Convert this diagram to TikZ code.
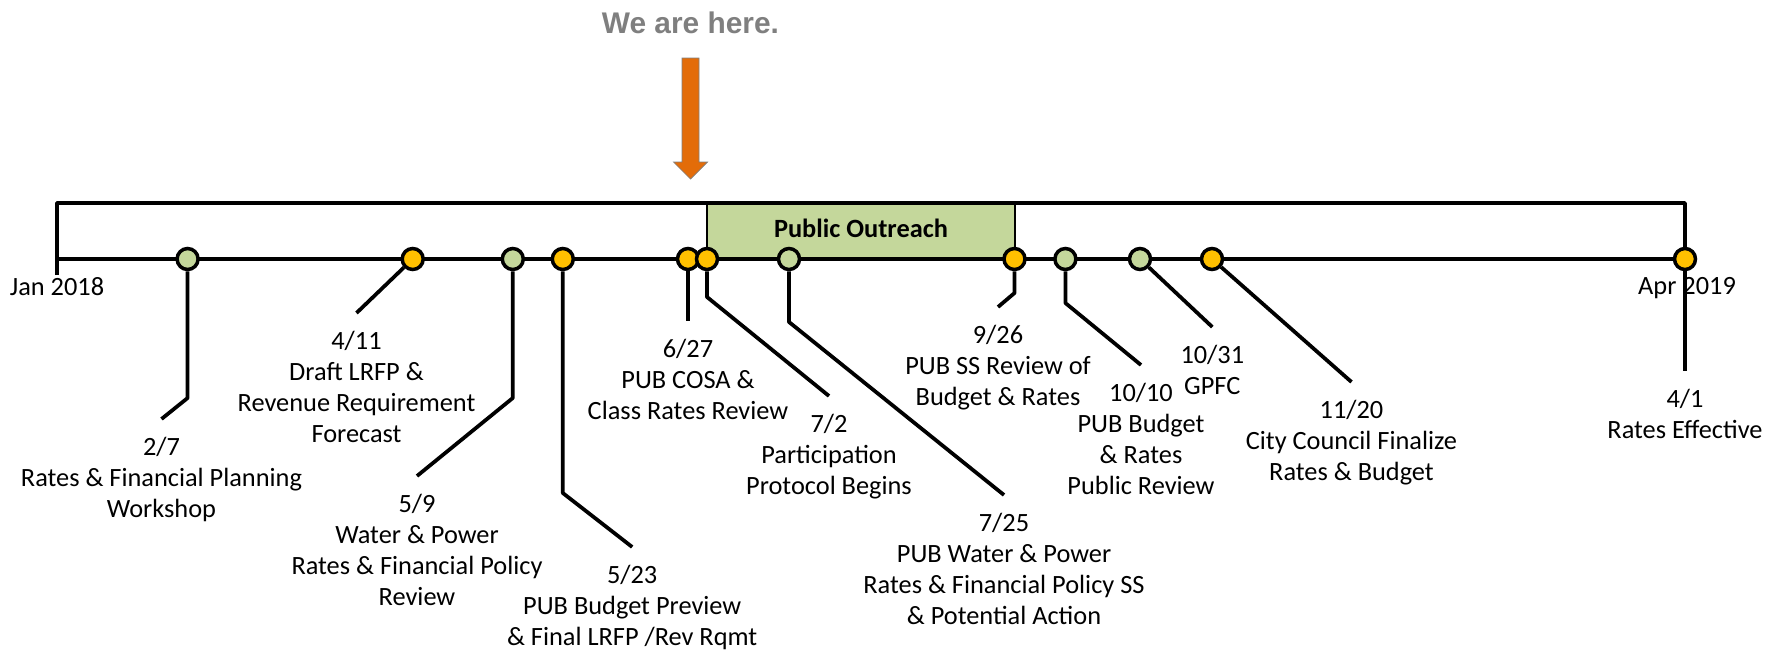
\documentclass[tikz,border=0pt]{standalone}
\usepackage{fontspec}
\setmainfont{Carlito}
\newfontfamily\herefont{Liberation Sans}
\usepackage{tikz}

\definecolor{mgreen}{HTML}{C4D79B}
\definecolor{morange}{HTML}{FFC000}
\definecolor{arrorange}{HTML}{E36C09}
\definecolor{heregray}{HTML}{7F7F7F}

\tikzset{
  bar/.style={line width=0.075cm, line join=round},
  leader/.style={line width=0.075cm, line join=round},
  gdot/.style={circle, draw, line width=0.07cm, fill=mgreen, minimum size=0.42cm, inner sep=0pt},
  odot/.style={gdot, fill=morange},
  lbl/.style={font=\fontsize{15}{17.6}\selectfont, align=center, anchor=north, inner xsep=0pt, inner ysep=0.36cm},
}

\begin{document}
\begin{tikzpicture}[x=0.02cm, y=-0.02cm]
    \useasboundingbox (0,0) rectangle (1783,650);

    % We are here
    \node[font=\herefont\bfseries\fontsize{17}{20}\selectfont, text=heregray] (here) at (690.5,23) {We are here.};
    \fill[arrorange, draw=heregray, line width=0.4pt]
        (682,58) -- (699,58) -- (699,162) -- (707.5,162) -- (690.5,179) -- (673.5,162) -- (682,162) -- cycle;

    % Outreach period
    \node[draw, fill=mgreen, line width=0.04cm, minimum width=6.16cm, minimum height=1.12cm, text depth=0.12cm,
          font=\bfseries\fontsize{15}{17.6}\selectfont] (outreach) at (861,231) {Public Outreach};

    % Timeline
    \coordinate (jan) at (57,259);
    \coordinate (apr) at (1685,259);
    \draw[bar] (57,275) -- (57,203) -- (1685,203) -- (apr);
    \draw[bar] (jan) -- (apr);
    \node[lbl, inner ysep=0.15cm] (janlbl) at (57,270) {Jan 2018};
    \node[lbl, inner ysep=0.15cm] (aprlbl) at (1687,270) {Apr 2019};

    % Milestones
    \node[gdot] (d27)   at (187.6,259) {};
    \node[odot] (d411)  at (412.7,259) {};
    \node[gdot] (d59)   at (512.8,259) {};
    \node[odot] (d523)  at (562.8,259) {};
    \node[odot] (d627)  at (688,259) {};
    \node[odot] (d72)   at (707,259) {};
    \node[gdot] (d725)  at (789,259) {};
    \node[odot] (d926)  at (1014.5,259) {};
    \node[gdot] (d1010) at (1065.4,259) {};
    \node[gdot] (d1031) at (1140,259) {};
    \node[odot] (d1120) at (1212,259) {};
    \node[odot] (d41)   at (1685,259) {};

    % Labels
    \node[lbl] (l27)   at (161.5,419) {2/7\\Rates \& Financial Planning\\Workshop};
    \node[lbl] (l411)  at (356.5,313) {4/11\\Draft LRFP \&\\Revenue Requirement\\Forecast};
    \node[lbl] (l59)   at (417,476)   {5/9\\Water \& Power\\Rates \& Financial Policy\\Review};
    \node[lbl] (l523)  at (632.2,547) {5/23\\PUB Budget Preview\\\& Final LRFP /Rev Rqmt};
    \node[lbl] (l627)  at (688,321)   {6/27\\PUB COSA \&\\Class Rates Review};
    \node[lbl] (l72)   at (829,396)   {7/2\\Participation\\Protocol Begins};
    \node[lbl] (l725)  at (1004,495)  {7/25\\PUB Water \& Power\\Rates \& Financial Policy SS\\\& Potential Action};
    \node[lbl] (l926)  at (998,307)   {9/26\\PUB SS Review of\\Budget \& Rates};
    \node[lbl] (l1010) at (1141,365)  {10/10\\PUB Budget\\\& Rates\\Public Review};
    \node[lbl] (l1031) at (1212.3,327) {10/31\\GPFC};
    \node[lbl] (l1120) at (1351.5,382) {11/20\\City Council Finalize\\Rates \& Budget};
    \node[lbl] (l41)   at (1685,371)  {4/1\\Rates Effective};

    % Leaders
    \draw[leader] (d27) -- ++(0,139) -- (l27.north);
    \draw[leader] (d411) -- (l411.north);
    \draw[leader] (d59) -- ++(0,139) -- (l59.north);
    \draw[leader] (d523) -- ++(0,234) -- (l523.north);
    \draw[leader] (d627) -- (l627.north);
    \draw[leader] (d72) -- ++(0,38) -- (l72.north);
    \draw[leader] (d725) -- ++(0,63) -- (l725.north);
    \draw[leader] (d926) -- ++(0,34) -- (l926.north);
    \draw[leader] (d1010) -- ++(0,44) -- (l1010.north);
    \draw[leader] (d1031) -- (l1031.north);
    \draw[leader] (d1120) -- (l1120.north);
    \draw[leader] (d41) -- (l41.north);
\end{tikzpicture}
\end{document}
